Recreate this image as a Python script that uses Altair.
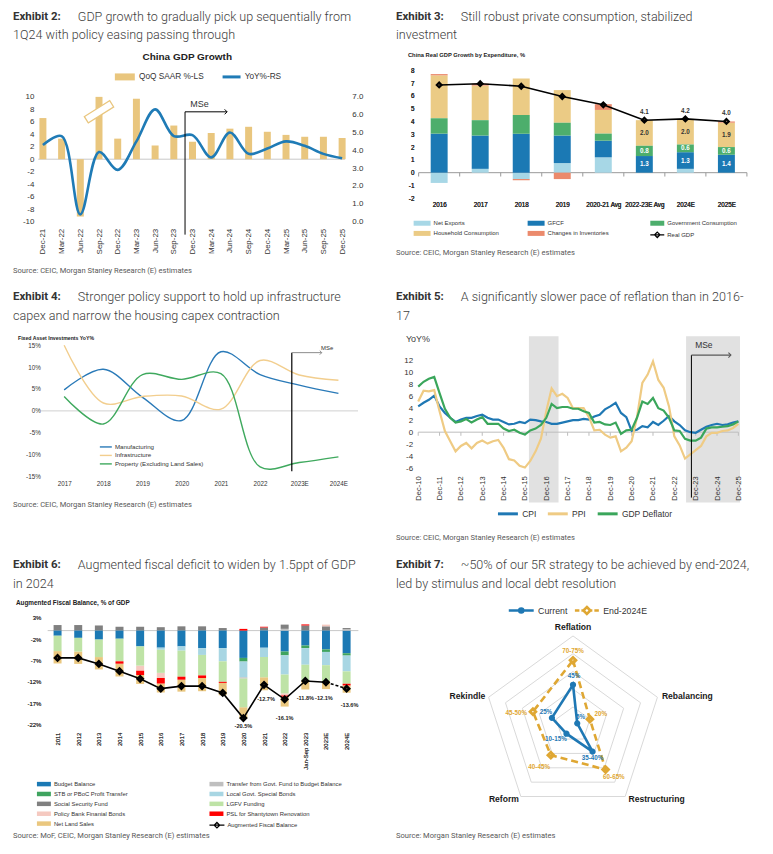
import json
import numpy as np
import pandas as pd
import altair as alt

# ============================== DATA ==============================
# Exhibit 2 - China GDP growth
ex2_quarters = ["Dec-21", "Mar-22", "Jun-22", "Sep-22", "Dec-22", "Mar-23", "Jun-23", "Sep-23",
                "Dec-23", "Mar-24", "Jun-24", "Sep-24", "Dec-24", "Mar-25", "Jun-25", "Sep-25", "Dec-25"]
ex2_qoq_saar = [6.6, 3.3, -9.2, 10.0, 3.3, 9.7, 2.2, 5.4, 2.8, 4.2, 4.9, 5.2, 4.4, 3.9, 3.6, 3.6, 3.4]
ex2_yoy = [4.3, 4.8, 0.4, 3.9, 2.9, 4.5, 6.3, 4.8, 4.85, 3.6, 5.0, 3.8, 4.1, 4.5, 4.25, 3.8, 3.55]
ex2_series = ["QoQ SAAR %-LS", "YoY%-RS"]
ex2_left_ticks = [-10, -8, -6, -4, -2, 0, 2, 4, 6, 8, 10]
ex2_right_ticks = [0, 1, 2, 3, 4, 5, 6, 7]

# Exhibit 3 - real GDP growth by expenditure
ex3_periods = ["2016", "2017", "2018", "2019", "2020-21 Avg", "2022-23E Avg", "2024E", "2025E"]
ex3_series = ["Net Exports", "GFCF", "Government Consumption", "Household Consumption", "Changes in Inventories"]
ex3_net_exports = [-0.8, 0.3, -0.5, 0.75, 1.2, 0.0, 0.3, 0.0]
ex3_gfcf = [3.05, 2.6, 3.05, 2.15, 1.3, 1.3, 1.3, 1.4]
ex3_gov = [1.2, 1.2, 1.45, 1.0, 0.55, 0.8, 0.6, 0.6]
ex3_household = [3.35, 2.7, 2.85, 2.55, 1.85, 2.0, 2.0, 1.9]
ex3_inventories = [0.1, 0.15, -0.1, -0.5, 0.45, 0.0, 0.0, 0.1]
ex3_real_gdp = [6.85, 6.95, 6.75, 5.95, 5.3, 4.1, 4.2, 4.0]
ex3_gdp_name = "Real GDP"
ex3_ticks = [-2, -1, 0, 1, 2, 3, 4, 5, 6, 7, 8]

# Exhibit 4 - fixed asset investment
ex4_years = ["2017", "2018", "2019", "2020", "2021", "2022", "2023E", "2024E"]
ex4_series = ["Manufacturing", "Infrastructure", "Property (Excluding Land Sales)"]
ex4_manufacturing = [4.8, 9.5, 3.1, -2.2, 13.5, 8.3, 5.9, 4.0]
ex4_infrastructure = [15.0, 1.8, 3.3, 3.4, 0.4, 11.5, 8.2, 7.0]
ex4_property = [3.3, -3.0, 8.3, 7.2, 8.5, -12.8, -11.8, -10.5]
ex4_ticks = [-15, -10, -5, 0, 5, 10, 15]

# Exhibit 5 - inflation, quarterly from Dec-10 to Dec-25
ex5_year_labels = ["Dec-10", "Dec-11", "Dec-12", "Dec-13", "Dec-14", "Dec-15", "Dec-16", "Dec-17",
                   "Dec-18", "Dec-19", "Dec-20", "Dec-21", "Dec-22", "Dec-23", "Dec-24", "Dec-25"]
ex5_series = ["CPI", "PPI", "GDP Deflator"]
ex5_cpi = [4.3, 4.9, 5.4, 6.1, 4.3, 3.2, 2.4, 1.7, 2.1, 2.4, 2.4, 2.7, 2.9, 2.4, 2.1, 2.1,
           1.7, 1.3, 1.4, 1.7, 1.5, 2.1, 2.0, 1.8, 1.7, 1.4, 1.4, 1.6, 1.8, 2.0, 2.0, 2.2,
           2.1, 2.6, 2.9, 3.8, 4.3, 4.9, 3.2, 2.5, 0.2, 0.4, 1.0, 0.8, 1.7, 1.2, 1.9, 2.7,
           1.8, 1.2, 0.3, 0.0, -0.1, 0.4, 0.9, 1.2, 1.4, 1.2, 1.3, 1.6, 1.8]
ex5_ppi = [5.1, 6.9, 6.8, 7.0, 3.5, 0.2, -1.5, -3.2, -2.3, -1.8, -2.7, -1.8, -1.4, -1.9, -1.5, -1.3,
           -2.6, -4.5, -4.7, -5.6, -5.9, -4.8, -3.2, -1.1, 3.5, 7.3, 6.0, 6.4, 5.7, 4.0, 4.0, 4.0,
           2.5, 0.3, 0.4, -0.4, -0.9, -0.7, -3.2, -2.6, -1.5, 2.5, 8.2, 9.6, 11.8, 8.7, 7.4, 4.3,
           -0.7, -2.2, -4.4, -3.7, -3.0, -2.3, -0.7, -0.1, -0.1, 0.2, 0.3, 0.7, 1.4]
ex5_deflator = [7.6, 8.4, 8.9, 9.2, 6.5, 3.9, 2.4, 1.6, 1.8, 2.2, 1.6, 2.1, 2.5, 1.4, 1.4, 1.4,
                0.6, 0.2, 0.4, -0.1, -0.4, 0.3, 0.6, 1.2, 2.4, 4.7, 4.0, 4.2, 4.2, 3.9, 3.9, 3.5,
                3.2, 1.6, 1.7, 1.3, 1.2, 1.6, -0.3, 0.3, 0.4, 2.4, 5.1, 4.7, 5.7, 4.0, 3.6, 2.4,
                0.3, 0.2, -1.1, -1.4, -1.4, -0.9, 0.6, 0.8, 0.8, 0.9, 1.0, 1.3, 1.8]
ex5_ticks = [-6, -4, -2, 0, 2, 4, 6, 8, 10, 12]
ex5_shaded_start = [20.75, 50.2]   # quarter positions of the shaded periods
ex5_shaded_end = [26.3, 60.3]

# Exhibit 6 - augmented fiscal balance, % of GDP
ex6_years = ["2011", "2012", "2013", "2014", "2015", "2016", "2017", "2018", "2019", "2020",
             "2021", "2022", "Jan-Sep 2023", "2023E", "2024E"]
ex6_budget = [-1.2, -1.7, -2.1, -1.9, -3.7, -4.0, -3.7, -4.1, -4.1, -6.4, -4.0, -4.9, -3.5, -4.4, -5.3]
ex6_stb = [0, 0, 0, 0, 0, 0, 0, 0, 0, -0.85, 0, -0.9, -0.6, -0.6, -0.55]
ex6_ssf = [1.3, 1.3, 1.2, 0.9, 0.9, 0.8, 1.0, 1.0, 0.6, 0, 0.7, 1.0, 1.2, 1.0, 0.35]
ex6_policy_bank = [0, 0, 0, 0, -1.2, -1.2, 0, 0, 0, 0, 0, -0.5, 0, 0.4, 0]
ex6_net_land = [-2.9, -2.9, -2.9, -3.0, -2.1, -2.1, -2.8, -3.1, -2.9, -2.7, -3.1, -2.3, -2.1, -1.9, -1.7]
ex6_transfer = [0, 0, 0, 0, 0, 0, 0, 0, 0, -0.3, 0, 0.4, 0, 0, 0.25]
ex6_local_bonds = [0, 0, 0, 0, 0, -0.5, -1.0, -1.6, -3.1, -3.7, -2.2, -4.5, -3.9, -3.1, -3.7]
ex6_lgfv = [-3.6, -3.2, -4.1, -5.3, -4.5, -5.4, -6.1, -4.8, -4.8, -6.7, -4.7, -4.4, -3.7, -3.7, -2.9]
ex6_psl = [0, 0, 0, -0.55, -1.0, -1.3, -0.7, -0.6, -0.25, 0.4, 0.2, -0.3, 0.25, 0, -0.4]
ex6_augmented = [-6.4, -6.4, -7.8, -9.5, -11.3, -13.6, -13.0, -13.0, -14.6, -20.5, -12.7, -16.1, -11.8, -12.1, -13.6]
ex6_left_names = ["Budget Balance", "STB or PBoC Profit Transfer", "Social Security Fund",
                  "Policy Bank Finanial Bonds", "Net Land Sales"]
ex6_right_names = ["Transfer from Govt. Fund to Budget Balance", "Local Govt. Special Bonds",
                   "LGFV Funding", "PSL for Shantytown Renovation"]
ex6_line_name = "Augmented Fiscal Balance"
ex6_ticks = [3, -2, -7, -12, -17, -22]
ex6_first_labelled = 9

# Exhibit 7 - 5R radar
ex7_axes = ["Reflation", "Rebalancing", "Restructuring", "Reform", "Rekindle"]
ex7_current = [45, 5, 37.5, 12.5, 25]
ex7_end2024 = [72.5, 20, 62.5, 42.5, 47.5]
ex7_current_labels = ["45%", "5%", "35-40%", "10-15%", "25%"]
ex7_end_labels = ["70-75%", "20%", "60-65%", "40-45%", "45-50%"]
ex7_series = ["Current", "End-2024E"]
ex7_rings = [20, 40, 60, 80, 100]

# ============================== STYLE / LAYOUT ==============================
FONT = "Liberation Sans"
HFONT = "Roboto"
INK = "#333333"
SRC = "#595959"
W1, W2 = 385, 372
H1, H2, H3 = 272, 255, 297

GOLD2, BLUE2 = "#E9C67E", "#1F7BB6"
C3 = ["#A7D7E6", "#1B79B4", "#4DAE6C", "#EBCB85", "#EB8A6C"]
C4 = ["#2A7AB8", "#F2CE8E", "#3FA95E"]
C5 = ["#1F78B4", "#EFCB84", "#3AA65B"]
C6L = ["#1B79B4", "#3FA45F", "#808080", "#F5C9C0", "#EAC77F"]
C6R = ["#BFBFBF", "#A8D6E3", "#BEE3A6", "#FF0000"]
C7 = ["#1F78B4", "#DFA733"]

BREAK = "M-1,-0.25L1,-0.25L1,0.25L-1,0.25Z"
CHEV = "M-1,-1L0,0L-1,1"

# legend symbols: a tiny nominal size so rows are spaced by the labels, and
# paths that are drawn wider than that nominal size.
S0 = 16
R0 = np.sqrt(S0) / 2


def _u(px):
    return (px - R0) / R0


def sym_rect(w, h):
    x0, x1, yh = _u(0), _u(w), h / 2 / R0
    return f"M{x0:.3f},{-yh:.3f}L{x1:.3f},{-yh:.3f}L{x1:.3f},{yh:.3f}L{x0:.3f},{yh:.3f}Z"


def sym_line(w, marker=None, msz=0.0, segments=None):
    segs = segments or [(0, w)]
    path = "".join(f"M{_u(a):.3f},0L{_u(b):.3f},0" for a, b in segs)
    if marker:
        mx, m = _u(w / 2), msz / 2 / R0
        if marker == "diamond":
            path += f"M{mx:.3f},{-m:.3f}L{mx + m:.3f},0L{mx:.3f},{m:.3f}L{mx - m:.3f},0Z"
        else:
            path += (f"M{mx - m:.3f},0A{m:.3f},{m:.3f},0,1,0,{mx + m:.3f},0"
                     f"A{m:.3f},{m:.3f},0,1,0,{mx - m:.3f},0Z")
    return path


def sx(d0, d1, p0, p1, w):
    s = (p1 - p0) / (d1 - d0)
    return alt.Scale(domain=[d0 - p0 / s, d0 + (w - p0) / s], nice=False, zero=False, padding=0)


def sy(d0, d1, p0, p1, h):
    s = (p0 - p1) / (d1 - d0)
    lo = d0 - (h - p0) / s
    return alt.Scale(domain=[lo, lo + h / s], nice=False, zero=False, padding=0)


def ax(orient, offset, values, expr, size, angle=None, align=None, baseline=None, color=INK, z=0):
    kw = dict(orient=orient, offset=offset, values=values, labelExpr=expr, domain=False, ticks=False,
              tickSize=0, grid=False, labelPadding=0, labelFont=FONT, labelFontSize=size,
              labelColor=color, title=None, labelOverlap=False, labelFlush=False, labelBound=False,
              zindex=z)
    if angle is not None:
        kw["labelAngle"] = angle
    if align:
        kw["labelAlign"] = align
    if baseline:
        kw["labelBaseline"] = baseline
    return alt.Axis(**kw)


def lg(x, yc, size, w, path, step=0.0, **kw):
    """Legend whose first row is centred at yc and whose symbols are w px wide."""
    d = dict(orient="none", legendX=x, legendY=yc - size / 2, title=None, labelFont=FONT,
             labelFontSize=size, labelColor=INK, padding=0, labelOffset=w + 2 - 2 * R0,
             rowPadding=max(step - size, 0), columnPadding=8, symbolType=path, symbolSize=S0)
    d.update(kw)
    return alt.Legend(**d)


def T(s, x, y, size, color=INK, weight="normal", align="left", font=FONT, baseline="middle"):
    return alt.Chart(pd.DataFrame({"t": [s]})).mark_text(
        font=font, fontSize=size, fontWeight=weight, color=color, align=align, baseline=baseline
    ).encode(x=alt.value(x), y=alt.value(y), text="t:N")


def heading(num, l1, l2, xe, xd, y1, y2):
    return [T(f"Exhibit {num}:", xe, y1, 11.5, "#333333", "bold", font=HFONT),
            T(l1, xd, y1, 12.6, "#404040", 300, font=HFONT),
            T(l2, xe, y2, 12.6, "#404040", 300, font=HFONT)]


def stack(n, values, pos_order, neg_order):
    rows = []
    for i in range(n):
        top, bot = 0.0, 0.0
        for nm in pos_order:
            v = values[nm][i]
            if v > 0:
                rows.append({"i": i, "s": nm, "v": v, "y0": top, "y1": top + v})
                top += v
        for nm in neg_order:
            v = values[nm][i]
            if v < 0:
                rows.append({"i": i, "s": nm, "v": v, "y0": bot + v, "y1": bot})
                bot += v
    return pd.DataFrame(rows)


def rule(df, xs, ys, color, width=1.0, dash=None):
    kw = dict(color=color, strokeWidth=width)
    if dash:
        kw["strokeDash"] = dash
    enc = dict(x=alt.X("x:Q", scale=xs, axis=None), y=alt.Y("y:Q", scale=ys, axis=None))
    if "x2" in df:
        enc["x2"] = alt.X2("x2")
    if "y2" in df:
        enc["y2"] = alt.Y2("y2")
    return alt.Chart(df).mark_rule(**kw).encode(**enc)


def pt(df, xs, ys, shape, size, color, width=1.0):
    return alt.Chart(df).mark_point(shape=shape, size=size, filled=False, color=color, strokeWidth=width,
                                    opacity=1).encode(x=alt.X("x:Q", scale=xs, axis=None),
                                                      y=alt.Y("y:Q", scale=ys, axis=None))


def label_layer(df, xs, ys, size, color, weight="normal", align="center", dx=0, dy=0, baseline="middle"):
    return alt.Chart(df).mark_text(font=FONT, fontSize=size, color=color, fontWeight=weight, align=align,
                                   baseline=baseline, dx=dx, dy=dy).encode(
        x=alt.X("x:Q", scale=xs, axis=None), y=alt.Y("y:Q", scale=ys, axis=None), text="t:N")


def panel(layers, w, h):
    return alt.layer(*layers).properties(width=w, height=h).resolve_scale(
        x="independent", y="independent", color="independent")


SOURCE = "Source: CEIC, Morgan Stanley Research (E) estimates"
SRC_SIZE = 7.6


# ============================== EXHIBIT 2 ==============================
def ex2():
    W, H = W1, H1
    n = len(ex2_quarters)
    xs = sx(0, n - 1, 34, 334, W)
    yl = sy(-10, 10, 212, 87, H)
    yr = sy(0, 7, 212, 87, H)
    df = pd.DataFrame({"i": range(n), "qoq": ex2_qoq_saar, "yoy": ex2_yoy, "z": 0.0,
                       "s1": ex2_series[0], "s2": ex2_series[1]})
    xax = ax("bottom", 218.7 - H, list(range(n)), json.dumps(ex2_quarters) + "[datum.value]", 8,
             angle=270, align="right", baseline="middle")
    lax = ax("left", -25, ex2_left_ticks, "datum.value + ''", 8, align="right", baseline="middle")
    rax = ax("right", 343.7 - W, ex2_right_ticks, "format(datum.value, '.1f')", 8, align="left",
             baseline="middle")
    zero = rule(pd.DataFrame({"x": [-0.25], "x2": [n - 0.85], "y": [0.0]}), xs, yl, "#C8C8C8")
    bars = alt.Chart(df).mark_bar(size=7).encode(
        x=alt.X("i:Q", scale=xs, axis=xax),
        y=alt.Y("qoq:Q", scale=yl, axis=lax), y2=alt.Y2("z"),
        color=alt.Color("s1:N", scale=alt.Scale(domain=[ex2_series[0]], range=[GOLD2]),
                        legend=lg(104, 67, 8.3, 20, sym_rect(20, 7))))
    top_i = int(np.argmax(ex2_qoq_saar))
    brk = alt.Chart(pd.DataFrame({"x": [top_i], "y": [7.6]})).mark_point(
        shape=BREAK, size=900, angle=328, filled=True, fill="white", stroke=GOLD2, strokeWidth=1.3,
        opacity=1).encode(x=alt.X("x:Q", scale=xs, axis=None), y=alt.Y("y:Q", scale=yl, axis=None))
    line = alt.Chart(df).mark_line(interpolate="catmull-rom", strokeWidth=2.6).encode(
        x=alt.X("i:Q", scale=xs, axis=None),
        y=alt.Y("yoy:Q", scale=yr, axis=rax),
        color=alt.Color("s2:N", scale=alt.Scale(domain=[ex2_series[1]], range=[BLUE2]),
                        legend=lg(212, 67, 8.3, 18, sym_line(18), symbolStrokeWidth=3)))
    p0, p1, yv = 7.6, 9.85, 7.6
    mse = rule(pd.DataFrame({"x": [p0, p0], "x2": [p0, p1], "y": [yv, yv], "y2": [-12.1, yv]}), xs, yl, "black")
    head = pt(pd.DataFrame({"x": [p1], "y": [yv]}), xs, yl, CHEV, 25, "black")
    mtxt = label_layer(pd.DataFrame({"x": [8.37], "y": [8.9], "t": ["MSe"]}), xs, yl, 9, INK)
    texts = heading(2, "GDP growth to gradually pick up sequentially from",
                    "1Q24 with policy easing passing through", 4, 69, 7, 25)
    texts += [T("China GDP Growth", 178.7, 47, 10, "#222222", "bold", align="center"),
              T(SOURCE, 4, 262, SRC_SIZE, SRC, font=HFONT)]
    return panel([zero, bars, brk, line, mse, head, mtxt] + texts, W, H)


# ============================== EXHIBIT 3 ==============================
def ex3():
    W, H = W2, H1
    n = len(ex3_periods)
    xs = sx(0, n - 1, 46.3, 334.3, W)
    ys = sy(-2, 8, 188.7, 60.3, H)
    vals = dict(zip(ex3_series, [ex3_net_exports, ex3_gfcf, ex3_gov, ex3_household, ex3_inventories]))
    st = stack(n, vals, ex3_series, ex3_series)
    col = dict(zip(ex3_series, C3))
    xax = ax("bottom", 192 - H, list(range(n)), json.dumps(ex3_periods) + "[datum.value]", 6.3,
             align="center", baseline="top")
    yax = ax("left", -21, ex3_ticks, "datum.value + ''", 6.3, align="right", baseline="middle")
    yc, step = 213.7, 10.2

    def bl(names, lx, w):
        d = st[st["s"].isin(names)]
        return alt.Chart(d).mark_bar(size=17).encode(
            x=alt.X("i:Q", scale=xs, axis=xax), y=alt.Y("y0:Q", scale=ys, axis=yax), y2=alt.Y2("y1"),
            color=alt.Color("s:N", scale=alt.Scale(domain=names, range=[col[k] for k in names]),
                            legend=lg(lx, yc, 6, w, sym_rect(w, 5), step=step)))

    zero = rule(pd.DataFrame({"x": [-0.5], "x2": [n - 0.5], "y": [0.0]}), xs, ys, "#9A9A9A")
    ticks = rule(pd.DataFrame({"x": [i - 0.5 for i in range(n + 1)], "y": [0.0] * (n + 1),
                               "y2": [-0.3] * (n + 1)}), xs, ys, "#9A9A9A")
    bA = bl(["Net Exports", "Household Consumption"], 19.7, 17)
    bB = bl(["GFCF", "Changes in Inventories"], 134, 17)
    bC = bl(["Government Consumption"], 257, 14)
    gdf = pd.DataFrame({"x": range(n), "y": ex3_real_gdp, "s": ex3_gdp_name})
    gline = alt.Chart(gdf).mark_line(color="black", strokeWidth=1.6).encode(
        x=alt.X("x:Q", scale=xs, axis=None), y=alt.Y("y:Q", scale=ys, axis=None))
    gpts = alt.Chart(gdf).mark_point(shape="diamond", size=22, filled=False, strokeWidth=2.2, opacity=1).encode(
        x=alt.X("x:Q", scale=xs, axis=None), y=alt.Y("y:Q", scale=ys, axis=None),
        color=alt.Color("s:N", scale=alt.Scale(domain=[ex3_gdp_name], range=["black"]),
                        legend=lg(257, yc + 11.6, 6, 14, sym_line(14, "diamond", 5.5),
                                  symbolStrokeWidth=1.2, symbolFillColor="black", symbolStrokeColor="black")))
    lab = st[(st["i"] >= 5) & st["s"].isin(["GFCF", "Government Consumption", "Household Consumption"])].copy()
    lab["x"] = lab["i"]
    lab["y"] = (lab["y0"] + lab["y1"]) / 2
    lab["t"] = lab["v"].map(lambda v: f"{v:.1f}")
    lw = label_layer(lab[lab["s"] != "Household Consumption"], xs, ys, 6.3, "white", "bold")
    ld = label_layer(lab[lab["s"] == "Household Consumption"], xs, ys, 6.3, "#333333", "bold")
    gl = gdf[gdf["x"] >= 5].copy()
    gl["t"] = gl["y"].map(lambda v: f"{v:.1f}")
    glt = label_layer(gl, xs, ys, 6.3, "#333333", "bold", dy=-8)
    texts = heading(3, "Still robust private consumption, stabilized", "investment", 3, 68, 7, 25)
    texts += [T("China Real GDP Growth by Expenditure, %", 15, 45, 5.8, "#222222", "bold"),
              T(SOURCE, 3, 244, SRC_SIZE, SRC, font=HFONT)]
    return panel([zero, ticks, bA, bB, bC, gline, gpts, lw, ld, glt] + texts, W, H)


# ============================== EXHIBIT 4 ==============================
def ex4():
    W, H = W1, H2
    n = len(ex4_years)
    xs = sx(0, n - 1, 55.3, 330.3, W)
    ys = sy(-15, 15, 195.7, 64, H)
    rows = []
    for nm, arr in zip(ex4_series, [ex4_manufacturing, ex4_infrastructure, ex4_property]):
        for i, v in enumerate(arr):
            rows.append({"i": i, "s": nm, "v": v})
    df = pd.DataFrame(rows)
    xax = ax("bottom", 199.5 - H, list(range(n)), json.dumps(ex4_years) + "[datum.value]", 6.3,
             align="center", baseline="top")
    yax = ax("left", -31.3, ex4_ticks, "datum.value + '%'", 6.3, align="right", baseline="middle")
    zero = rule(pd.DataFrame({"x": [-0.59], "x2": [7.5], "y": [0.0]}), xs, ys, "#D0D0D0")
    lines = alt.Chart(df).mark_line(interpolate="catmull-rom", strokeWidth=1.4).encode(
        x=alt.X("i:Q", scale=xs, axis=xax), y=alt.Y("v:Q", scale=ys, axis=yax),
        color=alt.Color("s:N", scale=alt.Scale(domain=ex4_series, range=C4),
                        legend=lg(90, 166, 6.2, 12, sym_line(12), step=7.7, symbolStrokeWidth=1.4)))
    p0, p1 = 5.81, 6.575
    vline = rule(pd.DataFrame({"x": [p0], "y": [13.3], "y2": [-13.8]}), xs, ys, "black", 1.2)
    arrow = rule(pd.DataFrame({"x": [p0], "x2": [p1], "y": [13.3]}), xs, ys, "#8C8C8C", 1.0)
    head = pt(pd.DataFrame({"x": [p1], "y": [13.3]}), xs, ys, CHEV, 16, "#8C8C8C")
    mtxt = label_layer(pd.DataFrame({"x": [6.71], "y": [14.4], "t": ["MSe"]}), xs, ys, 6, INK)
    texts = heading(4, "Stronger policy support to hold up infrastructure",
                    "capex and narrow the housing capex contraction", 4, 69, 16, 35)
    texts += [T("Fixed Asset Investments YoY%", 9, 56.7, 5.2, "#222222", "bold"),
              T(SOURCE, 4, 224, SRC_SIZE, SRC, font=HFONT)]
    return panel([zero, lines, vline, arrow, head, mtxt] + texts, W, H)


# ============================== EXHIBIT 5 ==============================
def ex5():
    W, H = W2, H2
    nq = len(ex5_cpi)
    xs = sx(0, nq - 1, 25.3, 346.3, W)
    ys = sy(-6, 12, 187.3, 79, H)
    rows = []
    for nm, arr in zip(ex5_series, [ex5_cpi, ex5_ppi, ex5_deflator]):
        for k, v in enumerate(arr):
            rows.append({"k": k, "s": nm, "v": v})
    df = pd.DataFrame(rows)
    tick_pos = list(range(0, nq, 4))
    xax = ax("bottom", 195 - H, tick_pos, json.dumps(ex5_year_labels) + "[datum.value / 4]", 7.6,
             angle=270, align="right", baseline="middle", z=1)
    yax = ax("left", -19.7, ex5_ticks, "datum.value + ''", 8, align="right", baseline="middle")
    shade = alt.Chart(pd.DataFrame({"x": ex5_shaded_start, "x2": ex5_shaded_end, "y": [16.0, 16.0],
                                    "y2": [-11.7, -11.7]})).mark_rect(color="#E1E1E1").encode(
        x=alt.X("x:Q", scale=xs, axis=None), x2=alt.X2("x2"),
        y=alt.Y("y:Q", scale=ys, axis=None), y2=alt.Y2("y2"))
    zero = rule(pd.DataFrame({"x": [0], "x2": [nq - 1], "y": [0.0]}), xs, ys, "#BDBDBD")
    ticks = rule(pd.DataFrame({"x": tick_pos, "y": [0.0] * len(tick_pos), "y2": [-0.6] * len(tick_pos)}),
                 xs, ys, "#BDBDBD")
    lines = alt.Chart(df).mark_line(strokeWidth=2.2).encode(
        x=alt.X("k:Q", scale=xs, axis=xax), y=alt.Y("v:Q", scale=ys, axis=yax),
        color=alt.Color("s:N", scale=alt.Scale(domain=ex5_series, range=C5),
                        legend=lg(103, 232.7, 8.5, 20, sym_line(20), direction="horizontal",
                                  symbolStrokeWidth=3, columnPadding=5)))
    p0, p1 = 51.2, 58.6
    vline = rule(pd.DataFrame({"x": [p0], "y": [12.85], "y2": [-10.9]}), xs, ys, "black", 1.0)
    arrow = rule(pd.DataFrame({"x": [p0], "x2": [p1], "y": [12.85]}), xs, ys, "#595959", 1.2)
    head = pt(pd.DataFrame({"x": [p1], "y": [12.85]}), xs, ys, CHEV, 25, "#595959", 1.1)
    mtxt = label_layer(pd.DataFrame({"x": [51.9], "y": [14.45], "t": ["MSe"]}), xs, ys, 8.5, INK, align="left")
    texts = heading(5, "A significantly slower pace of reflation than in 2016-", "17", 3, 68, 16, 35)
    texts += [T("YoY%", 13, 57.3, 9, "#404040"),
              T(SOURCE, 3, 257, SRC_SIZE, SRC, font=HFONT)]
    return panel([shade, zero, ticks, lines, vline, arrow, head, mtxt] + texts, W, H)


# ============================== EXHIBIT 6 ==============================
def ex6():
    W, H = W1, H3
    n = len(ex6_years)
    xs = sx(0, n - 1, 48.7, 338.5, W)
    ys = sy(-22, 3, 189.3, 82.3, H)
    vals = {"Budget Balance": ex6_budget, "STB or PBoC Profit Transfer": ex6_stb,
            "Social Security Fund": ex6_ssf, "Policy Bank Finanial Bonds": ex6_policy_bank,
            "Net Land Sales": ex6_net_land, "Transfer from Govt. Fund to Budget Balance": ex6_transfer,
            "Local Govt. Special Bonds": ex6_local_bonds, "LGFV Funding": ex6_lgfv,
            "PSL for Shantytown Renovation": ex6_psl}
    pos_order = ["Transfer from Govt. Fund to Budget Balance", "Social Security Fund",
                 "Policy Bank Finanial Bonds", "PSL for Shantytown Renovation"]
    neg_order = ["Budget Balance", "STB or PBoC Profit Transfer", "Local Govt. Special Bonds",
                 "Transfer from Govt. Fund to Budget Balance", "LGFV Funding", "Policy Bank Finanial Bonds",
                 "PSL for Shantytown Renovation", "Net Land Sales"]
    st = stack(n, vals, pos_order, neg_order)
    xax = ax("bottom", 197 - H, list(range(n)), json.dumps(ex6_years) + "[datum.value]", 6,
             angle=270, align="right", baseline="middle")
    yax = ax("left", -32, ex6_ticks, "datum.value + '%'", 6, align="right", baseline="middle")
    yc, step, lstep = 249, 9.8, 10.3

    def bl(names, colors, lx):
        d = st[st["s"].isin(names)]
        return alt.Chart(d).mark_bar(size=8).encode(
            x=alt.X("i:Q", scale=xs, axis=xax), y=alt.Y("y0:Q", scale=ys, axis=yax), y2=alt.Y2("y1"),
            color=alt.Color("s:N", scale=alt.Scale(domain=names, range=colors),
                            legend=lg(lx, yc, 5.9, 14, sym_rect(14, 4.5), step=step)))

    zero = rule(pd.DataFrame({"x": [-0.48], "x2": [n - 0.43], "y": [0.0]}), xs, ys, "#C8C8C8")
    bL = bl(ex6_left_names, C6L, 27)
    bR = bl(ex6_right_names, C6R, 200)
    ldf = pd.DataFrame({"x": range(n), "y": ex6_augmented, "s": ex6_line_name})
    solid = alt.Chart(ldf[ldf["x"] <= n - 2]).mark_line(color="black", strokeWidth=1.6).encode(
        x=alt.X("x:Q", scale=xs, axis=None), y=alt.Y("y:Q", scale=ys, axis=None))
    dashed = alt.Chart(ldf[ldf["x"] >= n - 2]).mark_line(color="black", strokeWidth=1.6, strokeDash=[3, 2]).encode(
        x=alt.X("x:Q", scale=xs, axis=None), y=alt.Y("y:Q", scale=ys, axis=None))
    pts = alt.Chart(ldf).mark_point(shape="diamond", size=26, filled=False, strokeWidth=2.6, opacity=1).encode(
        x=alt.X("x:Q", scale=xs, axis=None), y=alt.Y("y:Q", scale=ys, axis=None),
        color=alt.Color("s:N", scale=alt.Scale(domain=[ex6_line_name], range=["black"]),
                        legend=lg(200, yc + 4 * lstep, 5.9, 15, sym_line(15, "diamond", 5.5),
                                  symbolStrokeWidth=1.3, symbolFillColor="black", symbolStrokeColor="black")))
    off = [(0, 8), (2, 14), (0, 19), (0, 17), (-2, 16), (3, 16)]   # label offsets in px
    px_x, px_y = (338.5 - 48.7) / (n - 1), (189.3 - 82.3) / 25
    lab = ldf[ldf["x"] >= ex6_first_labelled].copy().reset_index(drop=True)
    lab["x"] = lab["x"] + [o[0] / px_x for o in off]
    lab["t"] = lab["y"].map(lambda v: f"{v:.1f}%")
    lab["y"] = lab["y"] - np.array([o[1] / px_y for o in off])
    labels = label_layer(lab, xs, ys, 5.6, "#222222", "bold")
    texts = heading(6, "Augmented fiscal deficit to widen by 1.5ppt of GDP", "in 2024", 4, 69, 29, 48)
    texts += [T("Augmented Fiscal Balance, % of GDP", 7, 67, 6.4, "#222222", "bold"),
              T("Source: MoF, CEIC, Morgan Stanley Research (E) estimates", 4, 301, SRC_SIZE, SRC, font=HFONT)]
    return panel([zero, bL, bR, solid, dashed, pts, labels] + texts, W, H)


# ============================== EXHIBIT 7 ==============================
def ex7():
    W, H = W2, H3
    cx, cy, k = 180.5, 189.5, 0.89
    xs = sx(0, 100, cx, cx + 100 * k, W)
    ys = sy(0, 100, cy, cy - 100 * k, H)
    ang = np.deg2rad(np.arange(len(ex7_axes)) * 72.0)
    rings = pd.DataFrame([{"r": r, "j": j, "x": r * np.sin(a), "y": r * np.cos(a)}
                          for r in ex7_rings for j, a in enumerate(ang)])
    ring = alt.Chart(rings).mark_line(interpolate="linear-closed", color="#D9D9D9", strokeWidth=1).encode(
        x=alt.X("x:Q", scale=xs, axis=None), y=alt.Y("y:Q", scale=ys, axis=None),
        detail="r:N", order="j:Q")

    def series_df(vals, name):
        return pd.DataFrame({"j": range(len(vals)), "x": np.array(vals) * np.sin(ang),
                             "y": np.array(vals) * np.cos(ang), "s": name})

    cur = series_df(ex7_current, ex7_series[0])
    end = series_df(ex7_end2024, ex7_series[1])
    enc = dict(x=alt.X("x:Q", scale=xs, axis=None), y=alt.Y("y:Q", scale=ys, axis=None), order="j:Q")
    end_line = alt.Chart(end).mark_line(interpolate="linear-closed", color=C7[1], strokeWidth=2.6,
                                        strokeDash=[7, 4]).encode(**enc)
    cur_line = alt.Chart(cur).mark_line(interpolate="linear-closed", color=C7[0], strokeWidth=2.6).encode(**enc)
    end_sym = sym_line(24, "diamond", 7, segments=[(0, 4.5), (6.5, 8.5), (15.5, 17.5), (19.5, 24)])
    end_pts = alt.Chart(end).mark_point(shape="diamond", size=34, filled=False, strokeWidth=2.8, opacity=1).encode(
        x=alt.X("x:Q", scale=xs, axis=None), y=alt.Y("y:Q", scale=ys, axis=None),
        color=alt.Color("s:N", scale=alt.Scale(domain=[ex7_series[1]], range=[C7[1]]),
                        legend=lg(180, 75, 8.8, 24, end_sym, symbolStrokeWidth=2.6,
                                  symbolFillColor=C7[1], symbolStrokeColor=C7[1])))
    cur_pts = alt.Chart(cur).mark_point(shape="circle", size=12, filled=False, strokeWidth=2.8, opacity=1).encode(
        x=alt.X("x:Q", scale=xs, axis=None), y=alt.Y("y:Q", scale=ys, axis=None),
        color=alt.Color("s:N", scale=alt.Scale(domain=[ex7_series[0]], range=[C7[0]]),
                        legend=lg(113.7, 75, 8.8, 25, sym_line(25, "circle", 4), symbolStrokeWidth=2.6,
                                  symbolFillColor=C7[0], symbolStrokeColor=C7[0])))
    cur_off = [(1, -8.3), (3.4, -6.7), (0, 6.6), (-10.6, 5.3), (-6, -5.6)]
    end_off = [(0, -9.3), (11, -5.6), (8.3, 7.7), (-11.7, 11.7), (-16.6, 1)]
    cat_off = [(0, -8.8), (30, -1), (31.5, 2.5), (-17, 2.5), (-21.2, -1)]

    def lab_df(base, texts, offs):
        return pd.DataFrame({"x": base["x"] + np.array([o[0] for o in offs]) / k,
                             "y": base["y"] - np.array([o[1] for o in offs]) / k, "t": texts})

    cur_lab = label_layer(lab_df(cur, ex7_current_labels, cur_off), xs, ys, 6.3, C7[0], "bold")
    end_lab = label_layer(lab_df(end, ex7_end_labels, end_off), xs, ys, 6.3, C7[1], "bold")
    outer = series_df([max(ex7_rings)] * len(ex7_axes), "axis")
    cat_lab = label_layer(lab_df(outer, ex7_axes, cat_off), xs, ys, 8.6, "#1A1A1A", "bold")
    texts = heading(7, "~50% of our 5R strategy to be achieved by end-2024,",
                    "led by stimulus and local debt resolution", 3, 68, 29, 48)
    texts += [T("Source: Morgan Stanley Research (E) estimates", 3, 301, SRC_SIZE, SRC, font=HFONT)]
    return panel([ring, end_line, cur_line, end_pts, cur_pts, end_lab, cur_lab, cat_lab] + texts, W, H)


chart = alt.concat(ex2(), ex3(), ex4(), ex5(), ex6(), ex7(), columns=2, spacing=0, bounds="flush",
                   align="each").properties(padding=0, background="white").configure_view(stroke="transparent")

chart.save("out.html", embed_options={"renderer": "svg", "actions": False})
